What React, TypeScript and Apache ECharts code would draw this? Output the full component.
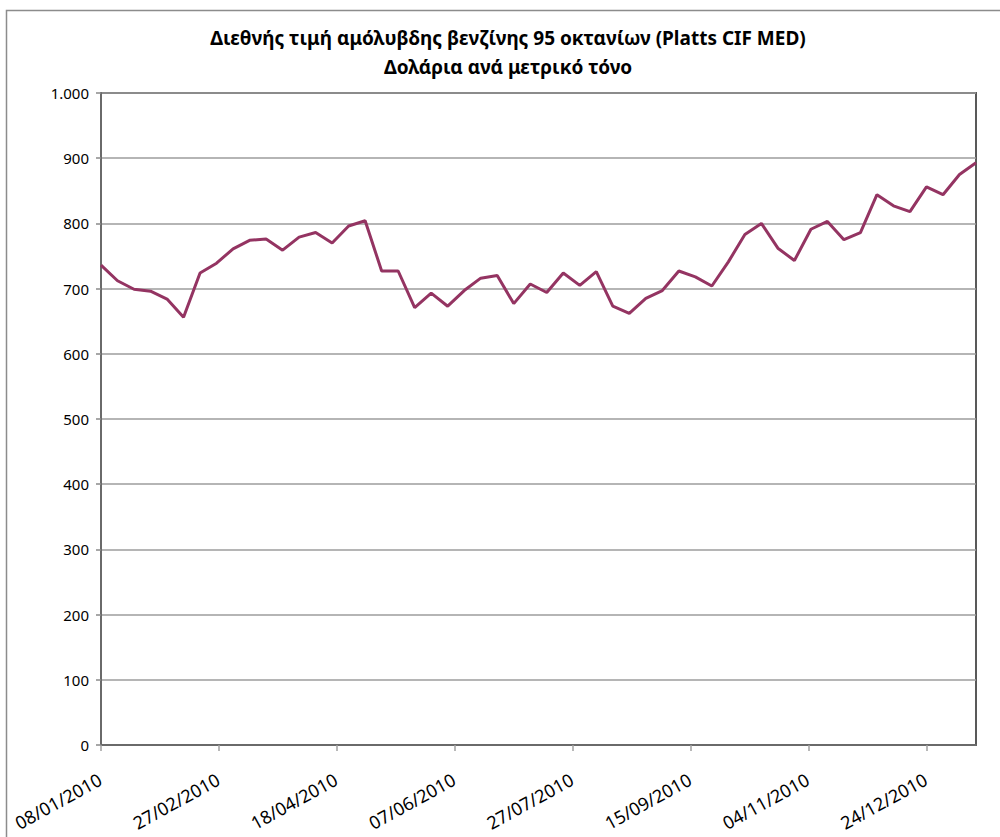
import React, { useEffect, useRef } from "react";
import * as echarts from "echarts";

const titleLines = [
  "Διεθνής τιμή αμόλυβδης βενζίνης 95 οκτανίων (Platts CIF MED)",
  "Δολάρια ανά μετρικό τόνο",
];

const dates = [
  "08/01/2010", "15/01/2010", "22/01/2010", "29/01/2010",
  "05/02/2010", "12/02/2010", "19/02/2010", "26/02/2010",
  "05/03/2010", "12/03/2010", "19/03/2010", "26/03/2010",
  "02/04/2010", "09/04/2010", "16/04/2010", "23/04/2010", "30/04/2010",
  "07/05/2010", "14/05/2010", "21/05/2010", "28/05/2010",
  "04/06/2010", "11/06/2010", "18/06/2010", "25/06/2010",
  "02/07/2010", "09/07/2010", "16/07/2010", "23/07/2010", "30/07/2010",
  "06/08/2010", "13/08/2010", "20/08/2010", "27/08/2010",
  "03/09/2010", "10/09/2010", "17/09/2010", "24/09/2010",
  "01/10/2010", "08/10/2010", "15/10/2010", "22/10/2010", "29/10/2010",
  "05/11/2010", "12/11/2010", "19/11/2010", "26/11/2010",
  "03/12/2010", "10/12/2010", "17/12/2010", "24/12/2010", "31/12/2010",
  "07/01/2011", "14/01/2011",
];

const prices = [
  736, 712, 699, 696, 684, 656, 724, 739, 761, 774, 776, 759, 779, 786, 770,
  796, 804, 727, 727, 671, 693, 673, 697, 716, 720, 677, 707, 694, 724, 705,
  726, 673, 662, 685, 697, 727, 718, 704, 741, 783, 800, 762, 743, 791, 803,
  775, 786, 844, 827, 818, 856, 844, 875, 893,
];

// x tick positions, in days after the first date
const xTickDays = [0, 50, 100, 150, 200, 250, 300, 350];
const yTicks = [0, 100, 200, 300, 400, 500, 600, 700, 800, 900, 1000];

const DAY = 86400000;
function parseDate(s: string): number {
  const [d, m, y] = s.split("/").map(Number);
  return Date.UTC(y, m - 1, d);
}
const t0 = parseDate(dates[0]);
function dayToLabel(v: number): string {
  const dt = new Date(t0 + Math.round(v) * DAY);
  const dd = String(dt.getUTCDate()).padStart(2, "0");
  const mm = String(dt.getUTCMonth() + 1).padStart(2, "0");
  return `${dd}/${mm}/${dt.getUTCFullYear()}`;
}

const FONT = "'Noto Sans', 'DejaVu Sans', sans-serif";

export default function App() {
  const ref = useRef<HTMLDivElement>(null);
  useEffect(() => {
    if (!ref.current) return;
    const chart = echarts.init(ref.current, undefined, { renderer: "svg" });
    const seriesData = dates.map((d, i) => [
      Math.round((parseDate(d) - t0) / DAY),
      prices[i],
    ]);
    const lastDay = seriesData[seriesData.length - 1][0];
    chart.setOption({
      animation: false,
      backgroundColor: "#ffffff",
      textStyle: { fontFamily: FONT },
      graphic: [
        {
          type: "polyline",
          shape: { points: [[6.5, 900], [6.5, 10.5], [1010, 10.5]] },
          style: { fill: "none", stroke: "#8c8c8c", lineWidth: 1.5 },
          silent: true,
          z: -10,
        },
      ],
      title: {
        text: titleLines.join("\n"),
        left: 503,
        top: 18,
        textAlign: "center",
        textStyle: {
          fontFamily: FONT,
          fontWeight: "bold",
          fontSize: 19,
          lineHeight: 29,
          color: "#000000",
        },
      },
      grid: {
        left: 101,
        top: 93,
        right: 24,
        bottom: 92,
        show: true,
        borderColor: "#595959",
        borderWidth: 2,
        backgroundColor: "transparent",
        containLabel: false,
      },
      xAxis: {
        type: "value",
        min: 0,
        max: lastDay,
        interval: 50,
        axisLine: { show: true, lineStyle: { color: "#6a6a6a", width: 2 } },
        axisTick: {
          show: true,
          length: 6,
          lineStyle: { color: "#a0a0a0", width: 1.5 },
          customValues: xTickDays,
        },
        axisLabel: {
          customValues: xTickDays,
          formatter: (v: number) => dayToLabel(v),
          rotate: 29,
          margin: 22,
          verticalAlign: "top",
          padding: [0, 6, 0, 0],
          fontSize: 18,
          color: "#000000",
          fontFamily: FONT,
        },
        splitLine: { show: false },
      },
      yAxis: {
        type: "value",
        min: 0,
        max: 1000,
        interval: 100,
        axisLine: { show: true, lineStyle: { color: "#6a6a6a", width: 2 } },
        axisTick: {
          show: true,
          length: 5,
          lineStyle: { color: "#8a8a8a", width: 1.5 },
          customValues: yTicks,
        },
        axisLabel: {
          customValues: yTicks,
          formatter: (v: number) =>
            String(v).replace(/\B(?=(\d{3})+(?!\d))/g, "."),
          fontSize: 15,
          margin: 12,
          color: "#000000",
          fontFamily: FONT,
        },
        splitLine: { show: true, lineStyle: { color: "#9c9c9c", width: 1.5 } },
      },
      series: [
        {
          type: "line",
          data: seriesData,
          symbol: "none",
          lineStyle: { color: "#943462", width: 3 },
          itemStyle: { color: "#943462" },
        },
      ],
    });
    return () => chart.dispose();
  }, []);
  return (
    <div
      ref={ref}
      style={{ position: "fixed", left: 0, top: 0, width: 1000, height: 837 }}
    />
  );
}
